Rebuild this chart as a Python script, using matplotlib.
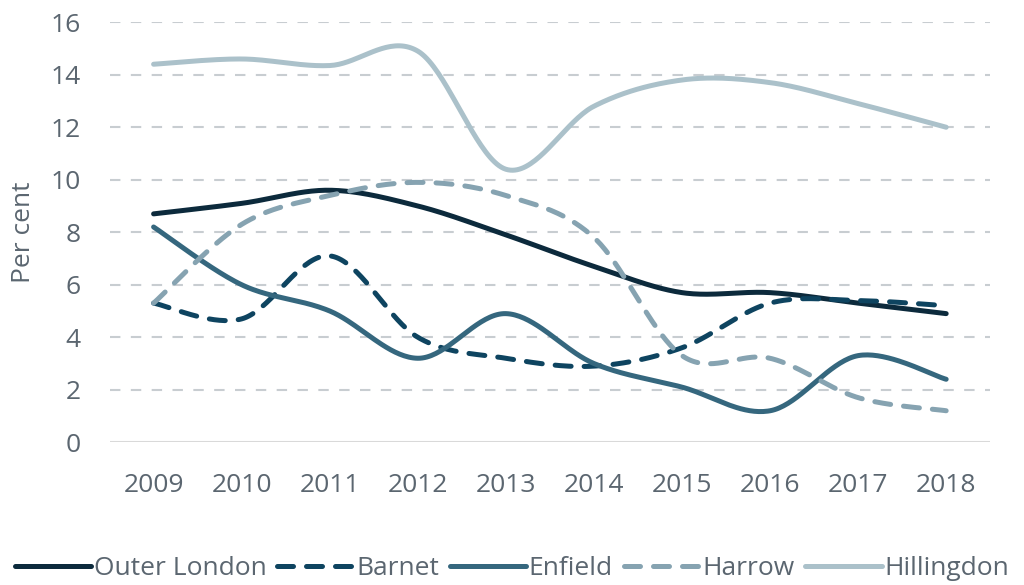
import numpy as np
import matplotlib
matplotlib.use("Agg")
import matplotlib.pyplot as plt
from matplotlib.lines import Line2D

years = [2009, 2010, 2011, 2012, 2013, 2014, 2015, 2016, 2017, 2018]
outer_london = [8.7, 9.1, 9.6, 9.0, 7.9, 6.7, 5.7, 5.7, 5.3, 4.9]
barnet = [5.3, 4.7, 7.1, 4.0, 3.2, 2.9, 3.6, 5.3, 5.4, 5.2]
enfield = [8.2, 6.0, 5.0, 3.2, 4.9, 3.0, 2.1, 1.2, 3.3, 2.4]
harrow = [5.3, 8.3, 9.4, 9.9, 9.4, 7.8, 3.3, 3.2, 1.7, 1.2]
hillingdon = [14.4, 14.6, 14.35, 14.9, 10.4, 12.8, 13.8, 13.7, 12.9, 12.0]

series = [
    ("Outer London", outer_london, "#0c2a3c", False),
    ("Barnet", barnet, "#0e4460", True),
    ("Enfield", enfield, "#35677e", False),
    ("Harrow", harrow, "#86a3b1", True),
    ("Hillingdon", hillingdon, "#abc1ca", False),
]


def smooth(x, y, n=40):
    # catmull-rom style bezier, roughly what excel does for smoothed lines
    x = np.asarray(x, float)
    y = np.asarray(y, float)
    px = np.concatenate([[x[0]], x, [x[-1]]])
    py = np.concatenate([[y[0]], y, [y[-1]]])
    t = np.linspace(0, 1, n)[:, None]
    xs, ys = [], []
    for i in range(1, len(px) - 2):
        p0 = np.array([px[i], py[i]])
        p3 = np.array([px[i + 1], py[i + 1]])
        c1 = p0 + (p3 - np.array([px[i - 1], py[i - 1]])) / 6
        c2 = p3 - (np.array([px[i + 2], py[i + 2]]) - p0) / 6
        b = ((1 - t) ** 3) * p0 + 3 * ((1 - t) ** 2) * t * c1 + 3 * (1 - t) * t ** 2 * c2 + t ** 3 * p3
        xs.append(b[:, 0])
        ys.append(b[:, 1])
    return np.concatenate(xs), np.concatenate(ys)


plt.rcParams['font.family'] = ['Open Sans', 'DejaVu Sans']
txt = "#5b6670"
fs = 19

fig = plt.figure(figsize=(10.24, 5.85), dpi=100)
ax = fig.add_axes([0.107, 0.244, 0.86, 0.718])

for y in range(2, 17, 2):
    ax.axhline(y, color="#c8cdd1", lw=1.5, dashes=(5, 5), zorder=0)
ax.axhline(0, color="#d9d9d9", lw=1.5, zorder=0)

handles = []
for name, vals, col, dashed in series:
    sx, sy = smooth(years, vals)
    kw = dict(color=col, lw=3.6, solid_capstyle="round", dash_capstyle="round")
    if dashed:
        kw["dashes"] = (3.2, 2.6)
    ax.plot(sx, sy, **kw)
    handles.append(Line2D([], [], label=name, **kw))

ax.set_xlim(2008.5, 2018.5)
ax.set_ylim(0, 16)
ax.set_xticks(years)
ax.set_yticks(range(0, 17, 2))
ax.tick_params(length=0, labelsize=fs, colors=txt)
ax.tick_params(axis="x", pad=22)
ax.tick_params(axis="y", pad=21)
for s in ax.spines.values():
    s.set_visible(False)
ax.set_ylabel("Per cent", fontsize=fs, color=txt)
ax.yaxis.set_label_coords(-0.084, 0.5)

fig.legend(handles=handles, loc="center", bbox_to_anchor=(0.5, 0.028), ncol=5,
           frameon=False, fontsize=fs, labelcolor=txt, handlelength=2.9,
           handletextpad=0.1, columnspacing=0.4, borderaxespad=0)

fig.savefig("out.png", dpi=100)
